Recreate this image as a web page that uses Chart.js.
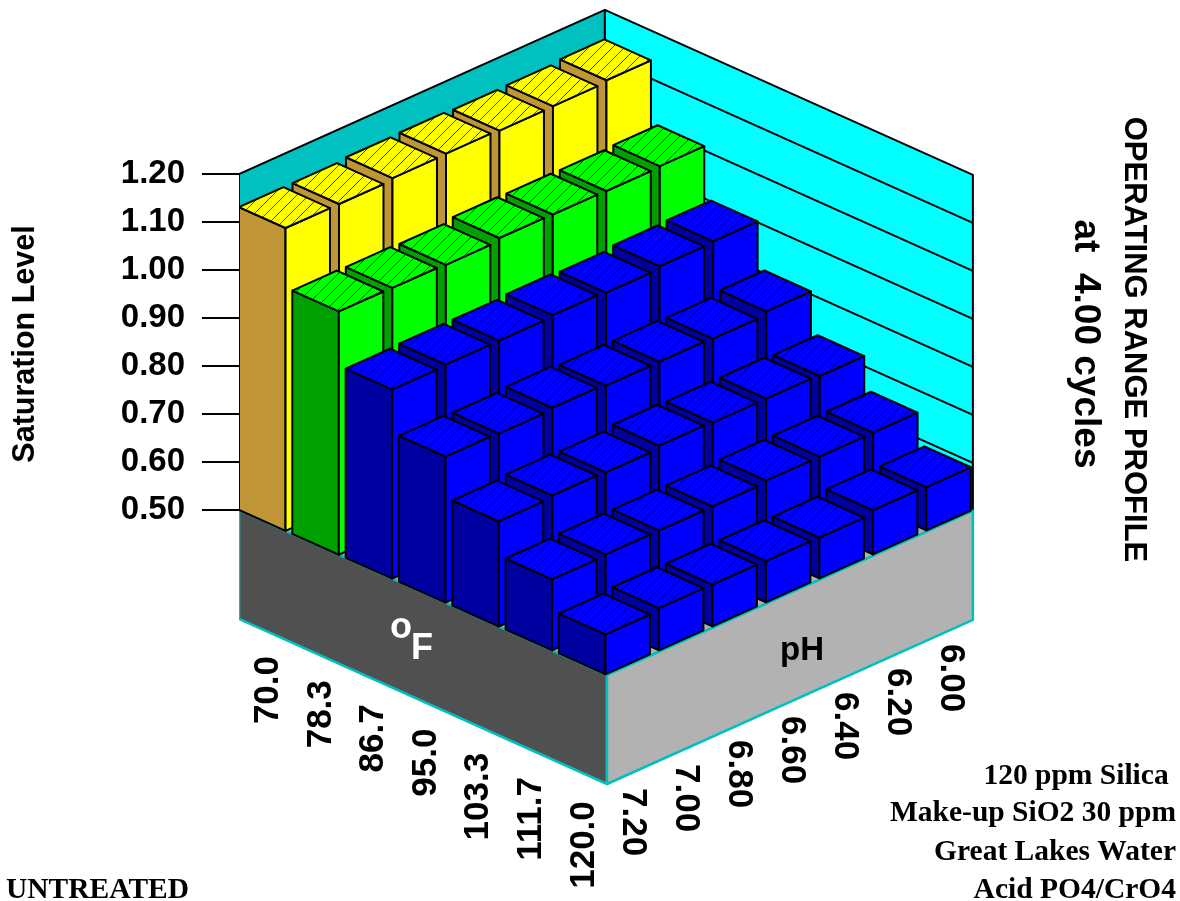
<!DOCTYPE html>
<html lang="en">
<head>
  <meta charset="UTF-8">
  <title>Operating Range Profile</title>
  <script src="https://cdn.jsdelivr.net/npm/chart.js"></script>
  <style>
    html, body { margin: 0; padding: 0; background: #fff; }
    canvas { display: block; }
  </style>
</head>
<body>
<canvas id="profileChart" width="1180" height="901"></canvas>

<script>
  const tempLabels = ['70.0', '78.3', '86.7', '95.0', '103.3', '111.7', '120.0'];
  const phLabels = ['7.20', '7.00', '6.80', '6.60', '6.40', '6.20', '6.00'];
  const satTicks = [0.5, 0.6, 0.7, 0.8, 0.9, 1.0, 1.1, 1.2];

  // saturation level per temperature, in pH order 7.20 -> 6.00
  const sat70 = [1.131, 1.131, 1.135, 1.136, 1.134, 1.135, 1.139];
  const sat78 = [1.007, 1.006, 1.004, 1.010, 1.009, 1.008, 1.010];
  const sat87 = [0.894, 0.896, 0.896, 0.899, 0.896, 0.901, 0.903];
  const sat95 = [0.804, 0.802, 0.806, 0.802, 0.802, 0.800, 0.807];
  const sat103 = [0.719, 0.723, 0.721, 0.727, 0.725, 0.725, 0.722];
  const sat112 = [0.648, 0.650, 0.650, 0.650, 0.654, 0.654, 0.654];
  const sat120 = [0.583, 0.588, 0.587, 0.586, 0.585, 0.592, 0.590];
  const satRows = [sat70, sat78, sat87, sat95, sat103, sat112, sat120];

  const rowColors = ['yellow', 'green', 'blue', 'blue', 'blue', 'blue', 'blue'];
  const palette = {
    yellow: { left: '#BF9535', right: '#FFFF00', hatch: 'rgba(40,40,0,0.8)' },
    green: { left: '#00A000', right: '#00FF00', hatch: 'rgba(0,30,0,0.8)' },
    blue: { left: '#0000A0', right: '#0000FF', hatch: 'rgba(0,0,40,0.85)' }
  };

  // projection: a runs along the temperature edge, b along the pH edge
  const unitX = 52.57, unitY = 23.57, pxPerLevel = 480;
  const originX = 239, originY = 510;
  const cellA = 1.0143, cellB = 1.0175, barA = 0.885, barB = 0.846;
  const slabDrop = 109 / pxPerLevel;
  const endA = 7, endB = 6.96;

  function pt(a, b, level) {
    return { x: a + b, y: level + (b - a) * unitY / pxPerLevel };
  }

  function hatch(base, line) {
    const c = document.createElement('canvas');
    c.width = c.height = 12;
    const g = c.getContext('2d');
    g.fillStyle = base;
    g.fillRect(0, 0, 12, 12);
    g.strokeStyle = line;
    g.lineWidth = 1;
    g.beginPath();
    g.moveTo(-2, 14); g.lineTo(14, -2);
    g.moveTo(-8, 8); g.lineTo(8, -8);
    g.moveTo(4, 20); g.lineTo(20, 4);
    g.stroke();
    return g.createPattern(c, 'repeat');
  }

  function poly(points, fill, edge, width) {
    return {
      data: points.concat([points[0]]),
      fill: 'shape',
      backgroundColor: fill,
      borderColor: edge,
      borderWidth: width,
      borderJoinStyle: 'round',
      pointRadius: 0,
      tension: 0
    };
  }

  function line(points, edge, width) {
    return { data: points, fill: false, borderColor: edge, borderWidth: width, pointRadius: 0, tension: 0 };
  }

  const layers = [];

  // walls and their level lines
  layers.push(poly([pt(0, 0, 0.5), pt(0, 0, 1.2), pt(0, endB, 1.2), pt(0, endB, 0.5)], '#00C0C0', '#000', 2));
  layers.push(poly([pt(0, endB, 0.5), pt(0, endB, 1.2), pt(endA, endB, 1.2), pt(endA, endB, 0.5)], '#00FFFF', '#000', 2));
  satTicks.slice(1, -1).forEach(level => {
    layers.push(line([pt(0, 0, level), pt(0, endB, level)], '#000', 2));
    layers.push(line([pt(0, endB, level), pt(endA, endB, level)], '#000', 2));
  });

  // floor and the two labelled slabs
  layers.push(poly([pt(0, 0, 0.5), pt(endA, 0, 0.5), pt(endA, endB, 0.5), pt(0, endB, 0.5)], '#B2B2B2', '#00C0C0', 2));
  layers.push(poly([pt(0, 0, 0.5), pt(endA, 0, 0.5), pt(endA, 0, 0.5 - slabDrop), pt(0, 0, 0.5 - slabDrop)], '#505050', '#00C0C0', 2.5));
  layers.push(poly([pt(endA, 0, 0.5), pt(endA, endB, 0.5), pt(endA, endB, 0.5 - slabDrop), pt(endA, 0, 0.5 - slabDrop)], '#B2B2B2', '#00C0C0', 2.5));

  // bars, back to front
  satRows.forEach((row, i) => {
    for (let j = row.length - 1; j >= 0; j--) {
      const v = row[j];
      const c = palette[rowColors[i]];
      const a0 = i * cellA, a1 = a0 + barA;
      const b0 = j * cellB, b1 = b0 + barB;
      layers.push(poly([pt(a0, b0, 0.5), pt(a1, b0, 0.5), pt(a1, b0, v), pt(a0, b0, v)], c.left, '#000', 2));
      layers.push(poly([pt(a1, b0, 0.5), pt(a1, b1, 0.5), pt(a1, b1, v), pt(a1, b0, v)], c.right, '#000', 2));
      layers.push(poly([pt(a0, b0, v), pt(a1, b0, v), pt(a1, b1, v), pt(a0, b1, v)], hatch(c.right, c.hatch), '#000', 2));
    }
  });

  const textPlugin = {
    id: 'profileText',
    afterDraw(chart) {
      const ctx = chart.ctx;
      const sans = 'bold 35px "Liberation Sans"';
      ctx.save();
      ctx.fillStyle = '#000';

      const rotated = (str, x, y, angle, align, font) => {
        ctx.save();
        ctx.translate(x, y);
        ctx.rotate(angle);
        ctx.font = font;
        ctx.textAlign = align;
        ctx.textBaseline = 'alphabetic';
        ctx.fillText(str, 0, 0);
        ctx.restore();
      };

      tempLabels.forEach((t, i) => rotated(t, 278 + i * 52.6, 656 + i * 24.2, -Math.PI / 2, 'right', sans));
      phLabels.forEach((p, j) => rotated(p, 623 + j * 53, 788 - j * 24, Math.PI / 2, 'left', sans));

      rotated('Saturation Level', 34, 344, -Math.PI / 2, 'center', 'bold 30.5px "Liberation Sans"');
      rotated('OPERATING RANGE PROFILE', 1125, 339.5, Math.PI / 2, 'center', 'bold 31px "Liberation Sans"');
      rotated('at  4.00 cycles', 1075, 344, Math.PI / 2, 'center', 'bold 37px "Liberation Sans"');

      ctx.font = 'bold 36px "Liberation Sans"';
      ctx.textAlign = 'left';
      ctx.fillStyle = '#fff';
      ctx.fillText('o', 390, 638);
      ctx.fillText('F', 411, 659);
      ctx.font = 'bold 33px "Liberation Sans"';
      ctx.fillStyle = '#000';
      ctx.fillText('pH', 780, 660);

      ctx.font = 'bold 29.5px "Liberation Serif"';
      ctx.fillText('UNTREATED', 6, 898);
      ctx.textAlign = 'right';
      ctx.fillText('120 ppm Silica ', 1176, 784);
      ctx.fillText('Make-up SiO2 30 ppm', 1176, 821);
      ctx.fillText('Great Lakes Water', 1176, 860);
      ctx.fillText('Acid PO4/CrO4', 1176, 898);
      ctx.restore();
    }
  };

  new Chart(document.getElementById('profileChart'), {
    type: 'line',
    data: { datasets: layers.slice().reverse() },
    plugins: [textPlugin],
    options: {
      responsive: false,
      animation: false,
      events: [],
      layout: { padding: 0 },
      plugins: {
        legend: { display: false },
        tooltip: { enabled: false },
        title: { display: false }
      },
      scales: {
        x: {
          type: 'linear',
          display: false,
          min: 0,
          max: (1180 - originX) / unitX
        },
        y: {
          type: 'linear',
          min: 0.5 - (901 - originY) / pxPerLevel,
          max: 0.5 + originY / pxPerLevel,
          afterFit: scale => {
            scale.width = originX;
            scale.paddingTop = 0;
            scale.paddingBottom = 0;
          },
          afterBuildTicks: scale => { scale.ticks = satTicks.map(v => ({ value: v })); },
          border: { display: false },
          grid: { drawOnChartArea: false, drawTicks: true, tickLength: 37, color: '#000', lineWidth: 2 },
          ticks: {
            autoSkip: false,
            padding: 17,
            color: '#000',
            font: { family: 'Liberation Sans', size: 33, weight: 'bold' },
            callback: v => v.toFixed(2)
          }
        }
      }
    }
  });
</script>
</body>
</html>
